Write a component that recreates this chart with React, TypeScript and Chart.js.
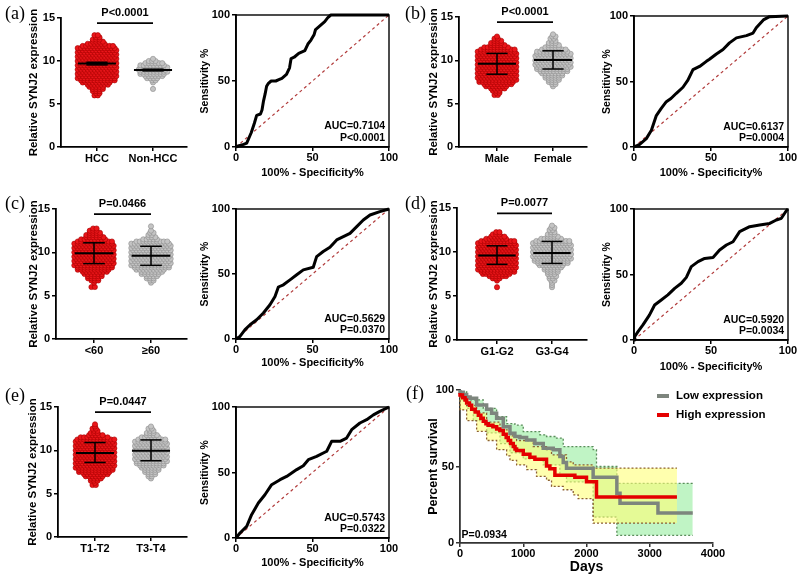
import React, { useEffect, useRef } from 'react';
import { Chart, registerables } from 'chart.js';

Chart.register(...registerables);

const SANS = "'Liberation Sans', Arial, Helvetica, sans-serif";
const SERIF = "'Liberation Serif', 'Times New Roman', serif";

// ---------------- DATA ----------------
// expression value bins shared by all dot plots, and number of dots per bin
const EXPR_BINS = [6.0, 6.25, 6.5, 6.75, 7.0, 7.25, 7.5, 7.75, 8.0, 8.25, 8.5, 8.75, 9.0, 9.25, 9.5, 9.75, 10.0, 10.25, 10.5, 10.75, 11.0, 11.25, 11.5, 11.75, 12.0, 12.25, 12.5, 12.75, 13.0, 13.25];
const EXPR_TICKS = [0, 5, 10, 15];

// (a)
const A_GROUPS = ['HCC', 'Non-HCC'];
const HCC_COUNTS = [2, 2, 3, 4, 5, 7, 9, 11, 12, 12, 12, 12, 12, 12, 12, 12, 12, 12, 12, 12, 12, 12, 12, 10, 6, 4, 3, 2, 2, 0];
const NONHCC_COUNTS = [0, 0, 0, 1, 0, 0, 1, 2, 4, 6, 8, 9, 9, 9, 8, 6, 3, 1, 0, 0, 0, 0, 0, 0, 0, 0, 0, 0, 0, 0];
const A_MEAN = [9.7, 8.95];
const A_ERR_LO = [9.55, 8.85];
const A_ERR_HI = [9.85, 9.05];
const A_PVAL = 'P<0.0001';

// (b)
const B_GROUPS = ['Male', 'Female'];
const MALE_COUNTS = [2, 2, 3, 5, 7, 9, 11, 12, 12, 12, 12, 12, 12, 12, 12, 12, 12, 12, 12, 12, 12, 11, 8, 5, 4, 3, 2, 1, 0, 0];
const FEMALE_COUNTS = [0, 0, 0, 0, 1, 2, 3, 4, 5, 6, 7, 9, 10, 11, 11, 11, 11, 11, 11, 11, 10, 8, 5, 4, 3, 2, 2, 2, 1, 0];
const B_MEAN = [9.6, 10.05];
const B_ERR_LO = [8.4, 9.0];
const B_ERR_HI = [10.8, 11.1];
const B_PVAL = 'P<0.0001';

// (c)
const C_GROUPS = ['<60', '≥60'];
const LT60_COUNTS = [2, 0, 1, 3, 4, 5, 6, 8, 10, 11, 12, 12, 12, 12, 12, 12, 12, 12, 12, 12, 12, 11, 8, 6, 5, 4, 3, 2, 0, 0];
const GE60_COUNTS = [0, 0, 1, 2, 3, 4, 6, 7, 9, 11, 12, 12, 12, 12, 12, 12, 12, 12, 12, 12, 12, 10, 5, 3, 2, 2, 1, 0, 1, 0];
const C_MEAN = [9.9, 9.6];
const C_ERR_LO = [8.7, 8.5];
const C_ERR_HI = [11.1, 10.7];
const C_PVAL = 'P=0.0466';

// (d)
const D_GROUPS = ['G1-G2', 'G3-G4'];
const G12_COUNTS = [1, 0, 0, 1, 3, 6, 9, 11, 12, 12, 12, 12, 12, 12, 12, 12, 12, 12, 12, 12, 12, 11, 7, 5, 3, 2, 0, 0, 0, 0];
const G34_COUNTS = [1, 1, 1, 2, 2, 3, 3, 4, 5, 6, 8, 10, 11, 12, 12, 12, 12, 12, 12, 12, 12, 11, 7, 4, 3, 2, 2, 2, 1, 0];
const D_MEAN = [9.6, 9.9];
const D_ERR_LO = [8.6, 8.7];
const D_ERR_HI = [10.7, 11.2];
const D_PVAL = 'P=0.0077';

// (e)
const E_GROUPS = ['T1-T2', 'T3-T4'];
const T12_COUNTS = [2, 1, 3, 4, 6, 8, 10, 11, 12, 12, 12, 12, 12, 12, 12, 12, 12, 12, 12, 12, 12, 12, 9, 5, 3, 2, 2, 1, 1, 0];
const T34_COUNTS = [0, 0, 0, 1, 2, 3, 4, 5, 6, 8, 9, 10, 10, 10, 10, 10, 10, 10, 10, 10, 10, 9, 6, 4, 3, 2, 2, 1, 0, 0];
const E_MEAN = [9.7, 9.95];
const E_ERR_LO = [8.6, 8.8];
const E_ERR_HI = [10.9, 11.2];
const E_PVAL = 'P=0.0447';

// ROC curves (100% - specificity, sensitivity)
const ROC_TICKS = [0, 50, 100];
const ROC_A_X = [0, 2, 5, 7, 10, 12, 13.5, 16, 17, 18, 19, 20, 21, 23, 26, 28, 30, 33, 35, 36, 38, 41, 45, 47, 49, 51, 52, 55, 58, 60, 62, 100];
const ROC_A_Y = [0, 1, 2, 3, 11, 18, 24, 25, 28, 35, 40, 46, 48, 50, 50, 51, 52, 55, 60, 67, 68, 71, 73, 78, 81, 85, 89, 92, 95, 98, 100, 100];
const ROC_A_AUC = 'AUC=0.7104';
const ROC_A_P = 'P<0.0001';

const ROC_B_X = [0, 3.7, 8, 11.3, 14.5, 17.7, 21, 24, 27.5, 31.8, 35, 38.3, 42.6, 47, 49, 53.5, 57.8, 62, 66.5, 73, 77.3, 79.4, 84, 88, 100];
const ROC_B_Y = [0, 2, 6.4, 12.8, 24, 29.5, 34.6, 37, 41, 45.6, 51, 59, 61.5, 65.4, 67, 71, 74.4, 79.5, 83.3, 85, 87, 91, 97, 99.5, 100];
const ROC_B_AUC = 'AUC=0.6137';
const ROC_B_P = 'P=0.0004';

const ROC_C_X = [0, 2.6, 5.9, 9.2, 13.5, 17.9, 22.2, 25.5, 27.7, 31, 35.3, 39.7, 44, 50.5, 52.7, 57, 61.4, 65.8, 74.5, 78.9, 83.2, 87.6, 94, 100];
const ROC_C_Y = [0, 2, 7.2, 11, 14.8, 20, 26.3, 32.7, 40, 41.7, 45.5, 49.4, 53.2, 55.2, 63.4, 67.3, 70.6, 76.2, 81.3, 86.4, 91.5, 95.4, 98, 100];
const ROC_C_AUC = 'AUC=0.5629';
const ROC_C_P = 'P=0.0370';

const ROC_D_X = [0, 0.4, 2.6, 5.8, 10, 13.4, 17.7, 22, 26.4, 30.7, 34, 37.2, 41.6, 45.9, 51.3, 55.6, 60, 64.3, 68.6, 75.1, 81.6, 88.1, 92.4, 95.7, 98.9, 100];
const ROC_D_Y = [0, 2.5, 6.4, 11.5, 19, 26.7, 30.5, 34.4, 39.4, 43.3, 47.8, 56, 59.8, 62.3, 63, 68.7, 72.5, 75, 82.7, 86.5, 87.8, 89, 91.6, 92.9, 98.7, 100];
const ROC_D_AUC = 'AUC=0.5920';
const ROC_D_P = 'P=0.0034';

const ROC_E_X = [0, 2.6, 7, 10.2, 14.6, 18.9, 23.3, 28.8, 33.1, 39.7, 44, 47.3, 52.7, 59.3, 62.5, 68, 72.3, 75.6, 81, 85.4, 89.8, 94, 100];
const ROC_E_Y = [0, 3.8, 8.9, 17.8, 26.7, 33, 40.7, 44.5, 47, 52.2, 55.2, 59.8, 62.3, 66.2, 73.8, 73.8, 76.3, 82.7, 87.8, 90.3, 94, 96.7, 100];
const ROC_E_AUC = 'AUC=0.5743';
const ROC_E_P = 'P=0.0322';

// Kaplan-Meier (f)
const KM_X_TICKS = [0, 1000, 2000, 3000, 4000];
const KM_Y_TICKS = [0, 50, 100];
const LOW_T = [0, 50, 105, 160, 263, 421, 500, 579, 684, 790, 868, 947, 1053, 1184, 1316, 1474, 1579, 1632, 1684, 2105, 2480, 2530, 3130, 3270, 3680];
const LOW_S = [100, 98.5, 97, 95.5, 94.6, 90.2, 87.5, 84.8, 81.5, 76, 71.7, 69.6, 69, 67.4, 65, 62, 60.9, 56.5, 52.6, 48.9, 43, 32.5, 26, 19.6, 19.6];
const HIGH_T = [0, 40, 80, 105, 150, 184, 240, 290, 330, 368, 410, 447, 520, 580, 630, 684, 730, 763, 800, 842, 870, 895, 1000, 1105, 1184, 1368, 1421, 1500, 1816, 2000, 2158, 2447, 3430];
const HIGH_S = [98, 96.7, 95, 93.5, 91.5, 90, 87.5, 85.6, 83.5, 81.5, 79.5, 78, 77, 76, 74.5, 73.5, 71, 69, 67, 65, 63, 61.5, 60.4, 58, 56, 54.8, 50.4, 48.5, 44.3, 43, 40, 30, 30];
const LOW_UP_T = [0, 105, 368, 579, 737, 868, 1000, 1263, 1368, 1526, 1632, 1684, 2105, 2158, 2480, 3270, 3680];
const LOW_UP = [100, 99, 93.5, 88, 82.6, 78, 77, 72.8, 70.7, 69.6, 68.5, 63, 63, 61, 50, 39, 39];
const LOW_LO_T = [0, 105, 210, 421, 632, 790, 1000, 1316, 1579, 1684, 2105, 2480, 3270, 3680];
const LOW_LO = [99, 93, 88, 80, 72, 65, 59, 55, 51, 44, 40, 17, 5, 5];
const HIGH_UP_T = [0, 105, 263, 421, 632, 790, 895, 1158, 1368, 1447, 1684, 1790, 2105, 2421, 3430];
const HIGH_UP = [99, 97, 90, 85, 79, 74, 70, 67, 63, 61, 57.6, 53, 51, 49, 49];
const HIGH_LO_T = [0, 105, 263, 421, 579, 737, 790, 895, 1053, 1210, 1368, 1447, 1632, 1790, 1868, 2105, 2447, 3430];
const HIGH_LO = [96, 87, 80, 73, 67, 61, 57, 54, 51, 48, 43.5, 41, 37, 34.8, 31.5, 29, 13, 13];
const KM_LEGEND = ['Low expression', 'High expression'];
const KM_PVAL = 'P=0.0934';

// ---------------- STYLE / LAYOUT ----------------
const RED_FILL = 'rgb(234,22,26)';
const RED_EDGE = 'rgb(165,0,0)';
const GRAY_FILL = 'rgb(196,196,196)';
const GRAY_EDGE = 'rgb(140,140,140)';
const SWARM_STEP = 0.06;
const MEAN_HALF = 0.34;
const CAP_HALF = 0.19;
const P_LINE_Y = 14.4;
const P_TEXT_Y = 15.6;

const xy = (xs: number[], ys: number[]) => xs.map((x, i) => ({ x, y: ys[i] }));

function swarmPoints(counts: number[], center: number) {
  const pts: { x: number; y: number }[] = [];
  counts.forEach((n, i) => {
    const shift = n > 1 ? ((i % 2) - 0.5) * SWARM_STEP * 0.5 : 0;
    for (let j = 0; j < n; j++) {
      pts.push({ x: center + (j - (n - 1) / 2) * SWARM_STEP + shift, y: EXPR_BINS[i] });
    }
  });
  return pts;
}

function makeDeco(cfg: any) {
  return {
    id: 'deco',
    afterDatasetsDraw(chart: any) {
      const { ctx, chartArea: a, scales } = chart;
      ctx.save();
      if (cfg.frame) {
        ctx.strokeStyle = '#000';
        ctx.lineWidth = 1.4;
        ctx.strokeRect(a.left, a.top, a.right - a.left, a.bottom - a.top);
      }
      for (const t of cfg.texts || []) {
        ctx.font = t.font;
        ctx.fillStyle = '#000';
        ctx.textAlign = t.align || 'center';
        ctx.textBaseline = 'middle';
        ctx.fillText(t.text, scales.x.getPixelForValue(t.x), scales.y.getPixelForValue(t.y));
      }
      for (const l of cfg.legend || []) {
        ctx.strokeStyle = l.color;
        ctx.lineWidth = 4;
        ctx.beginPath();
        ctx.moveTo(l.x0, l.y);
        ctx.lineTo(l.x1, l.y);
        ctx.stroke();
        ctx.font = `bold 11.5px ${SANS}`;
        ctx.fillStyle = '#000';
        ctx.textAlign = 'left';
        ctx.textBaseline = 'middle';
        ctx.fillText(l.text, l.tx, l.y);
      }
      ctx.restore();
    },
  };
}

function makeAxis(o: any) {
  return {
    type: 'linear',
    min: o.min,
    max: o.max,
    afterBuildTicks: (ax: any) => {
      ax.ticks = o.ticks.map((v: number) => ({ value: v }));
    },
    afterFit: (s: any) => {
      if (o.horizontal) s.height = o.size;
      else s.width = o.size;
    },
    ticks: {
      font: { family: SANS, size: 11, weight: 'bold' },
      color: '#000',
      padding: o.tickPad ?? 2,
      autoSkip: false,
      maxRotation: 0,
      callback: o.callback || ((v: number) => String(v)),
    },
    grid: { display: true, drawOnChartArea: false, drawTicks: true, tickLength: 4, color: o.color || '#000', lineWidth: 1.5 },
    border: { display: true, color: o.color || '#000', width: 1.8 },
    title: o.title
      ? {
          display: true,
          text: o.title,
          color: '#000',
          font: { family: SANS, size: o.titleSize, weight: 'bold' },
          padding: o.horizontal ? { top: 0, bottom: o.titlePad } : { top: o.titlePad, bottom: 0 },
        }
      : { display: false },
  };
}

function baseOptions(p: any, scales: any) {
  return {
    animation: false,
    responsive: false,
    devicePixelRatio: 1,
    events: [],
    layout: { padding: { top: p.T - p.box.y, right: p.box.x + p.box.w - p.R, bottom: 0, left: 0 } },
    plugins: { legend: { display: false }, tooltip: { enabled: false }, title: { display: false } },
    scales,
  };
}

function scatterConfig(p: any) {
  const span = p.c2 - p.c1;
  const xmin = 1 - (p.c1 - p.L) / span;
  const xmax = 2 + (p.R - p.c2) / span;
  const blk = (data: any[], w: number) => ({
    data,
    showLine: true,
    borderColor: '#000',
    backgroundColor: '#000',
    borderWidth: w,
    pointRadius: 0,
    fill: false,
    clip: false,
  });
  const datasets: any[] = [blk([{ x: 1, y: P_LINE_Y }, { x: 2, y: P_LINE_Y }], 1.8)];
  [0, 1].forEach((g) => {
    const c = g + 1;
    datasets.push(blk([{ x: c - MEAN_HALF, y: p.mean[g] }, { x: c + MEAN_HALF, y: p.mean[g] }], 2));
    datasets.push(blk([{ x: c, y: p.lo[g] }, { x: c, y: p.hi[g] }], 1.5));
    datasets.push(blk([{ x: c - CAP_HALF, y: p.lo[g] }, { x: c + CAP_HALF, y: p.lo[g] }], 1.5));
    datasets.push(blk([{ x: c - CAP_HALF, y: p.hi[g] }, { x: c + CAP_HALF, y: p.hi[g] }], 1.5));
  });
  datasets.push({
    data: swarmPoints(p.counts[0], 1),
    showLine: false,
    pointRadius: 2.6,
    pointBackgroundColor: RED_FILL,
    pointBorderColor: RED_EDGE,
    pointBorderWidth: 0.6,
    clip: false,
  });
  datasets.push({
    data: swarmPoints(p.counts[1], 2),
    showLine: false,
    pointRadius: 2.6,
    pointBackgroundColor: GRAY_FILL,
    pointBorderColor: GRAY_EDGE,
    pointBorderWidth: 0.6,
    clip: false,
  });
  const scales = {
    x: makeAxis({
      min: xmin,
      max: xmax,
      ticks: [1, 2],
      horizontal: true,
      size: p.box.y + p.box.h - p.B,
      tickPad: 1,
      callback: (v: number) => (v === 1 ? p.groups[0] : v === 2 ? p.groups[1] : ''),
    }),
    y: makeAxis({
      min: 0,
      max: 15,
      ticks: EXPR_TICKS,
      size: p.L - p.box.x,
      title: 'Relative SYNJ2 expression',
      titleSize: 11.5,
      titlePad: p.titlePad,
    }),
  };
  return {
    type: 'line',
    data: { datasets },
    options: baseOptions(p, scales),
    plugins: [makeDeco({ texts: [{ x: 1.5, y: P_TEXT_Y, text: p.pval, font: `bold 11px ${SANS}` }] })],
  };
}

function rocConfig(p: any) {
  const datasets = [
    { data: xy(p.rx, p.ry), borderColor: '#000', borderWidth: 3, pointRadius: 0, tension: 0, fill: false, clip: false, borderJoinStyle: 'round' },
    { data: [{ x: 0, y: 0 }, { x: 100, y: 100 }], borderColor: 'rgb(178,60,60)', borderWidth: 1.2, borderDash: [3, 3], pointRadius: 0, fill: false },
  ];
  const scales = {
    x: makeAxis({
      min: 0,
      max: 100,
      ticks: ROC_TICKS,
      horizontal: true,
      size: p.box.y + p.box.h - p.B,
      tickPad: 0,
      title: '100% - Specificity%',
      titleSize: 11,
      titlePad: p.xTitlePad,
    }),
    y: makeAxis({
      min: 0,
      max: 100,
      ticks: ROC_TICKS,
      size: p.L - p.box.x,
      title: 'Sensitivity %',
      titleSize: 10.5,
      titlePad: p.yTitlePad,
    }),
  };
  return {
    type: 'line',
    data: { datasets },
    options: baseOptions(p, scales),
    plugins: [
      makeDeco({
        frame: true,
        texts: [
          { x: 97.5, y: 15.5, text: p.auc, font: `bold 10.5px ${SANS}`, align: 'right' },
          { x: 97.5, y: 6.8, text: p.pval, font: `bold 10.5px ${SANS}`, align: 'right' },
        ],
      }),
    ],
  };
}

function kmConfig(p: any) {
  const step = (data: any[], color: string, width: number, extra: any = {}) => ({
    data,
    stepped: 'after',
    borderColor: color,
    borderWidth: width,
    pointRadius: 0,
    fill: false,
    clip: 6,
    ...extra,
  });
  const datasets = [
    step(xy(HIGH_T, HIGH_S), 'rgb(228,0,0)', 3.5),
    step(xy(LOW_T, LOW_S), 'rgb(125,133,125)', 3.5),
    step(xy(HIGH_UP_T, HIGH_UP), 'rgb(140,95,50)', 1.3, { borderDash: [2, 2] }),
    step(xy(HIGH_LO_T, HIGH_LO), 'rgb(140,95,50)', 1.3, { borderDash: [2, 2], fill: '-1', backgroundColor: 'rgba(255,255,120,0.6)' }),
    step(xy(LOW_UP_T, LOW_UP), 'rgb(90,140,90)', 1.3, { borderDash: [2, 2] }),
    step(xy(LOW_LO_T, LOW_LO), 'rgb(90,140,90)', 1.3, { borderDash: [2, 2], fill: '-1', backgroundColor: 'rgba(140,235,150,0.55)' }),
  ];
  const scales = {
    x: makeAxis({
      min: 0,
      max: 4000,
      ticks: KM_X_TICKS,
      horizontal: true,
      size: p.box.y + p.box.h - p.B,
      tickPad: 0,
      title: 'Days',
      titleSize: 14,
      titlePad: 2.6,
      color: '#333',
    }),
    y: makeAxis({
      min: 0,
      max: 100,
      ticks: KM_Y_TICKS,
      size: p.L - p.box.x,
      title: 'Percent survival',
      titleSize: 12.5,
      titlePad: 26,
      color: '#333',
    }),
  };
  return {
    type: 'line',
    data: { datasets },
    options: baseOptions(p, scales),
    plugins: [
      makeDeco({
        texts: [{ x: 25, y: 5.2, text: KM_PVAL, font: `bold 10.5px ${SANS}`, align: 'left' }],
        legend: [
          { x0: 257, x1: 269, y: 16, tx: 276, text: KM_LEGEND[0], color: 'rgb(125,133,125)' },
          { x0: 257, x1: 269, y: 35, tx: 276, text: KM_LEGEND[1], color: 'rgb(228,0,0)' },
        ],
      }),
    ],
  };
}

const PANELS: any[] = [
  { kind: 'scatter', box: { x: 0, y: 0, w: 200, h: 185 }, L: 61, T: 18, R: 187, B: 147, c1: 97, c2: 153, titlePad: 27,
    groups: A_GROUPS, counts: [HCC_COUNTS, NONHCC_COUNTS], mean: A_MEAN, lo: A_ERR_LO, hi: A_ERR_HI, pval: A_PVAL },
  { kind: 'roc', box: { x: 190, y: 0, w: 210, h: 185 }, L: 236, T: 15, R: 389, B: 147, yTitlePad: 8.7, xTitlePad: 5.4,
    rx: ROC_A_X, ry: ROC_A_Y, auc: ROC_A_AUC, pval: ROC_A_P },
  { kind: 'scatter', box: { x: 400, y: 0, w: 200, h: 185 }, L: 459, T: 17, R: 587, B: 147, c1: 497, c2: 553, titlePad: 27,
    groups: B_GROUPS, counts: [MALE_COUNTS, FEMALE_COUNTS], mean: B_MEAN, lo: B_ERR_LO, hi: B_ERR_HI, pval: B_PVAL },
  { kind: 'roc', box: { x: 595, y: 0, w: 205, h: 185 }, L: 634, T: 16, R: 788, B: 147, yTitlePad: 5.7, xTitlePad: 5.4,
    rx: ROC_B_X, ry: ROC_B_Y, auc: ROC_B_AUC, pval: ROC_B_P },
  { kind: 'scatter', box: { x: 0, y: 188, w: 200, h: 190 }, L: 56, T: 209, R: 187, B: 339, c1: 94, c2: 151, titlePad: 27,
    groups: C_GROUPS, counts: [LT60_COUNTS, GE60_COUNTS], mean: C_MEAN, lo: C_ERR_LO, hi: C_ERR_HI, pval: C_PVAL },
  { kind: 'roc', box: { x: 190, y: 188, w: 210, h: 190 }, L: 236, T: 209, R: 389, B: 339, yTitlePad: 8.7, xTitlePad: 8.4,
    rx: ROC_C_X, ry: ROC_C_Y, auc: ROC_C_AUC, pval: ROC_C_P },
  { kind: 'scatter', box: { x: 400, y: 188, w: 200, h: 190 }, L: 457, T: 208, R: 587, B: 340, c1: 497, c2: 552, titlePad: 27,
    groups: D_GROUPS, counts: [G12_COUNTS, G34_COUNTS], mean: D_MEAN, lo: D_ERR_LO, hi: D_ERR_HI, pval: D_PVAL },
  { kind: 'roc', box: { x: 595, y: 188, w: 205, h: 190 }, L: 634, T: 209, R: 788, B: 340, yTitlePad: 5.7, xTitlePad: 4.4,
    rx: ROC_D_X, ry: ROC_D_Y, auc: ROC_D_AUC, pval: ROC_D_P },
  { kind: 'scatter', box: { x: 0, y: 380, w: 200, h: 198 }, L: 58, T: 407, R: 187, B: 537, c1: 95, c2: 151, titlePad: 26,
    groups: E_GROUPS, counts: [T12_COUNTS, T34_COUNTS], mean: E_MEAN, lo: E_ERR_LO, hi: E_ERR_HI, pval: E_PVAL },
  { kind: 'roc', box: { x: 190, y: 380, w: 210, h: 198 }, L: 236, T: 407, R: 389, B: 538, yTitlePad: 8.7, xTitlePad: 8.4,
    rx: ROC_E_X, ry: ROC_E_Y, auc: ROC_E_AUC, pval: ROC_E_P },
  { kind: 'km', box: { x: 400, y: 380, w: 400, h: 198 }, L: 460, T: 390, R: 713, B: 543 },
];

const LABELS = [
  { t: '(a)', x: 5, cy: 13 },
  { t: '(b)', x: 405, cy: 13 },
  { t: '(c)', x: 5, cy: 203 },
  { t: '(d)', x: 405, cy: 203 },
  { t: '(e)', x: 5, cy: 395 },
  { t: '(f)', x: 406, cy: 393 },
];

function Panel({ p }: { p: any }) {
  const ref = useRef<HTMLCanvasElement | null>(null);
  useEffect(() => {
    if (!ref.current) return;
    const cfg = p.kind === 'scatter' ? scatterConfig(p) : p.kind === 'roc' ? rocConfig(p) : kmConfig(p);
    const chart = new Chart(ref.current, cfg as any);
    return () => chart.destroy();
  }, [p]);
  return (
    <canvas
      ref={ref}
      width={p.box.w}
      height={p.box.h}
      style={{ position: 'absolute', left: p.box.x, top: p.box.y, width: p.box.w, height: p.box.h }}
    />
  );
}

export default function App() {
  return (
    <div style={{ position: 'absolute', left: 0, top: 0, width: 800, height: 578, background: '#fff', overflow: 'hidden' }}>
      {PANELS.map((p, i) => (
        <Panel key={i} p={p} />
      ))}
      {LABELS.map((l) => (
        <div
          key={l.t}
          style={{
            position: 'absolute',
            left: l.x,
            top: l.cy - 11,
            height: 22,
            lineHeight: '22px',
            fontFamily: SERIF,
            fontSize: 18,
            color: '#000',
            whiteSpace: 'nowrap',
          }}
        >
          {l.t}
        </div>
      ))}
    </div>
  );
}
